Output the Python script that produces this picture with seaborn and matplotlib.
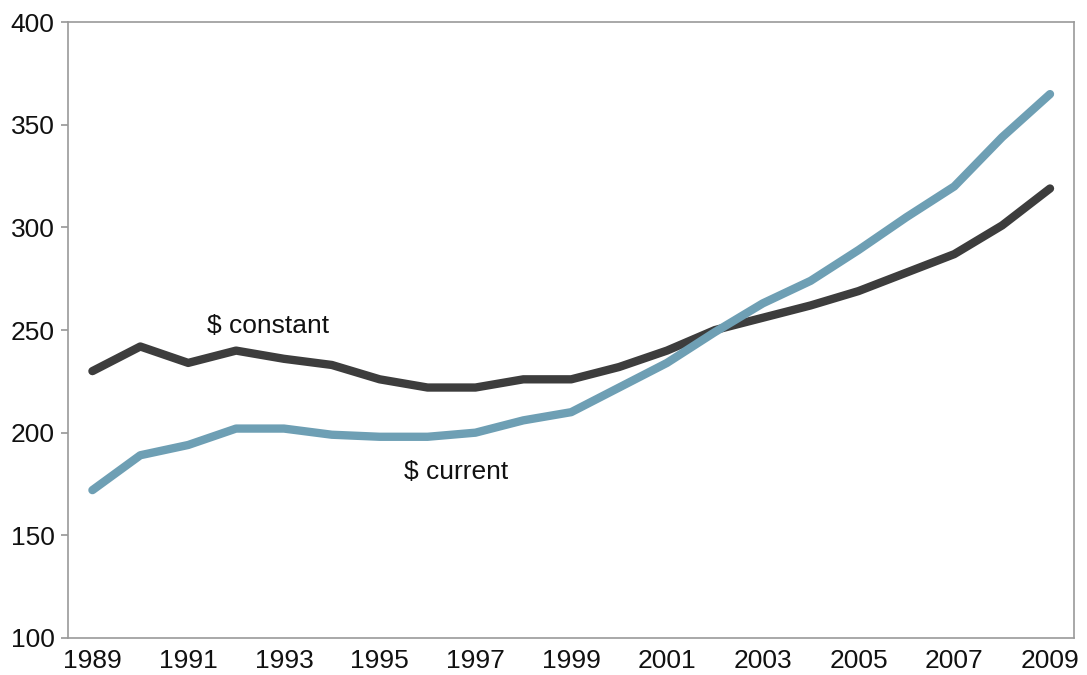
import pandas as pd
import matplotlib.pyplot as plt
import seaborn as sns
from matplotlib.ticker import MultipleLocator

sns.set_theme(style="white")
plt.rcParams['font.family'] = ['Liberation Sans', 'DejaVu Sans']

# данные
years = list(range(1989, 2010))
constant = [230, 242, 234, 240, 236, 233, 226, 222, 222, 226, 226,
            232, 240, 250, 256, 262, 269, 278, 287, 301, 319]
current = [172, 189, 194, 202, 202, 199, 198, 198, 200, 206, 210,
           222, 234, 249, 263, 274, 289, 305, 320, 344, 365]

df = pd.DataFrame({
    'year': years * 2,
    'value': constant + current,
    'series': ['$ constant'] * len(years) + ['$ current'] * len(years),
})

palette = {'$ constant': '#3d3d3d', '$ current': '#6e9fb4'}

fig, ax = plt.subplots(figsize=(10.87, 6.75), dpi=100)
sns.lineplot(data=df, x='year', y='value', hue='series', palette=palette,
             linewidth=6, legend=False, ax=ax, solid_capstyle='round')

ax.set_xlim(1988.5, 2009.5)
ax.set_ylim(100, 400)
ax.set_xticks(range(1989, 2010, 2))
ax.xaxis.set_minor_locator(MultipleLocator(0.5))
ax.set_yticks(range(100, 401, 50))
ax.set_xlabel('')
ax.set_ylabel('')

for s in ax.spines.values():
    s.set_color('#9a9a9a')
    s.set_linewidth(1.2)

ax.tick_params(axis='x', which='both', direction='in', length=5, color='#9a9a9a',
               labelsize=19, pad=8, labelcolor='#111111')
ax.tick_params(axis='y', which='major', direction='out', length=5, color='#9a9a9a',
               labelsize=19, pad=5, labelcolor='#111111', left=True)

ax.text(1991.4, 252, '$ constant', fontsize=19, color='#111111', va='center')
ax.text(1995.5, 181, '$ current', fontsize=19, color='#111111', va='center')

plt.subplots_adjust(left=0.063, right=0.988, top=0.967, bottom=0.055)
plt.savefig('out.png', dpi=100)
